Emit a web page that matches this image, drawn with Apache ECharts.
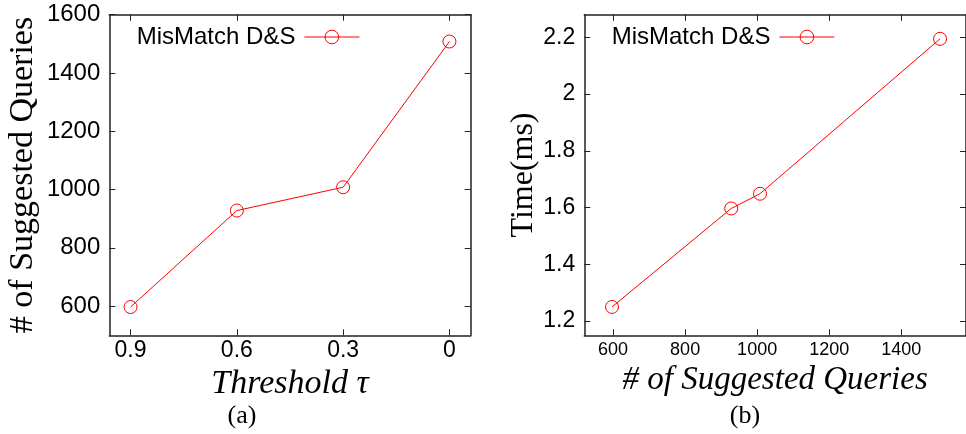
<!DOCTYPE html>
<html>
<head>
<meta charset="utf-8">
<script src="https://cdn.jsdelivr.net/npm/echarts@6/dist/echarts.min.js"></script>
<style>html,body{margin:0;padding:0;background:#fff;}#c{width:966px;height:434px;}</style>
</head>
<body>
<div id="c"></div>
<script>
// ---- data ----
var seriesName = 'MisMatch D&S';
var thresholds = [0.9, 0.6, 0.3, 0];
var suggestedQueries = [597, 928, 1008, 1508];
var timesMs = [1.25, 1.597, 1.649, 2.195];
// tick values
var thresholdTicks = [0, 0.3, 0.6, 0.9];
var queryTicksA = [600, 800, 1000, 1200, 1400, 1600];
var queryTicksB = [600, 800, 1000, 1200, 1400];
var timeTicks = [1.2, 1.4, 1.6, 1.8, 2, 2.2];

var sans = 'Liberation Sans';
var serif = 'Liberation Serif';
var frame = '#222';
var red = '#ff0000';

function plain(v) { return String(v); }

function frameAxis(extra) {
  var base = {
    axisLine: { show: true, onZero: false, lineStyle: { color: frame, width: 1.5 } },
    splitLine: { show: false },
    axisLabel: { show: false }
  };
  return Object.assign(base, extra);
}
function ticks(vals) {
  return { show: true, inside: true, length: 6, customValues: vals, lineStyle: { color: frame, width: 1 } };
}
function labels(vals, size, margin) {
  return { show: true, customValues: vals, fontFamily: sans, fontSize: size, color: '#000', margin: margin, formatter: plain };
}
function legendAt(left) {
  return {
    data: [seriesName], left: left, top: 25, padding: 0, align: 'right', itemWidth: 55, itemHeight: 17,
    textStyle: { fontFamily: sans, fontSize: 24, color: '#000', padding: [0, 4, 0, 0] },
    itemStyle: { color: 'transparent', borderColor: red, borderWidth: 1 },
    lineStyle: { color: red, width: 1 },
    selectedMode: false
  };
}

var chart = echarts.init(document.getElementById('c'), null, { renderer: 'canvas' });
chart.setOption({
  animation: false,
  backgroundColor: '#fff',
  grid: [
    { left: 109.3, top: 14.7, width: 361.4, height: 320.6, containLabel: false },
    { left: 584.3, top: 14.7, width: 389.6, height: 320.6, containLabel: false }
  ],
  legend: [legendAt(136.7), legendAt(611.7)],
  xAxis: [
    frameAxis({
      gridIndex: 0, type: 'value', position: 'bottom', inverse: true, min: -0.06, max: 0.96,
      axisTick: ticks(thresholdTicks),
      axisLabel: labels(thresholdTicks, 23, 4),
      name: 'Threshold τ', nameLocation: 'middle', nameGap: 41,
      nameTextStyle: { fontFamily: serif, fontStyle: 'italic', fontSize: 34, color: '#000', verticalAlign: 'middle', align: 'center' }
    }),
    frameAxis({
      gridIndex: 0, type: 'value', position: 'top', inverse: true, min: -0.06, max: 0.96,
      axisTick: ticks(thresholdTicks)
    }),
    frameAxis({
      gridIndex: 1, type: 'value', position: 'bottom', min: 520, max: 1580,
      axisTick: ticks(queryTicksB),
      axisLabel: labels(queryTicksB, 18, 6),
      name: '# of Suggested Queries', nameLocation: 'middle', nameGap: 42,
      nameTextStyle: { fontFamily: serif, fontStyle: 'italic', fontSize: 33, color: '#000', verticalAlign: 'middle', align: 'center' }
    }),
    frameAxis({
      gridIndex: 1, type: 'value', position: 'top', min: 520, max: 1580,
      axisTick: ticks(queryTicksB)
    })
  ],
  yAxis: [
    frameAxis({
      gridIndex: 0, type: 'value', position: 'left', min: 500, max: 1600,
      axisTick: ticks(queryTicksA),
      axisLabel: labels(queryTicksA, 24, 9),
      name: '# of Suggested Queries', nameLocation: 'middle', nameGap: 86, nameRotate: 90,
      nameTextStyle: { fontFamily: serif, fontSize: 34, color: '#000', verticalAlign: 'middle', align: 'center' }
    }),
    frameAxis({
      gridIndex: 0, type: 'value', position: 'right', min: 500, max: 1600,
      axisTick: ticks(queryTicksA)
    }),
    frameAxis({
      gridIndex: 1, type: 'value', position: 'left', min: 1.15, max: 2.28,
      axisTick: ticks(timeTicks),
      axisLabel: labels(timeTicks, 23, 9),
      name: 'Time(ms)', nameLocation: 'middle', nameGap: 57, nameRotate: 90,
      nameTextStyle: { fontFamily: serif, fontSize: 32, color: '#000', verticalAlign: 'middle', align: 'center' }
    }),
    frameAxis({
      gridIndex: 1, type: 'value', position: 'right', min: 1.15, max: 2.28,
      axisTick: ticks(timeTicks)
    })
  ],
  graphic: [
    { type: 'text', x: 242, y: 416, style: { text: '(a)', font: '26px "Liberation Serif"', fill: '#000', align: 'center', verticalAlign: 'middle' } },
    { type: 'text', x: 745, y: 416, style: { text: '(b)', font: '26px "Liberation Serif"', fill: '#000', align: 'center', verticalAlign: 'middle' } }
  ],
  series: [
    {
      name: seriesName, type: 'line', xAxisIndex: 0, yAxisIndex: 0,
      data: thresholds.map(function (t, i) { return [t, suggestedQueries[i]]; }),
      symbol: 'circle', symbolSize: 13, showAllSymbol: true,
      lineStyle: { color: red, width: 1 }, itemStyle: { color: 'transparent', borderColor: red, borderWidth: 1 }
    },
    {
      name: seriesName, type: 'line', xAxisIndex: 2, yAxisIndex: 2,
      data: suggestedQueries.map(function (q, i) { return [q, timesMs[i]]; }),
      symbol: 'circle', symbolSize: 13, showAllSymbol: true,
      lineStyle: { color: red, width: 1 }, itemStyle: { color: 'transparent', borderColor: red, borderWidth: 1 }
    }
  ]
});
</script>
</body>
</html>
